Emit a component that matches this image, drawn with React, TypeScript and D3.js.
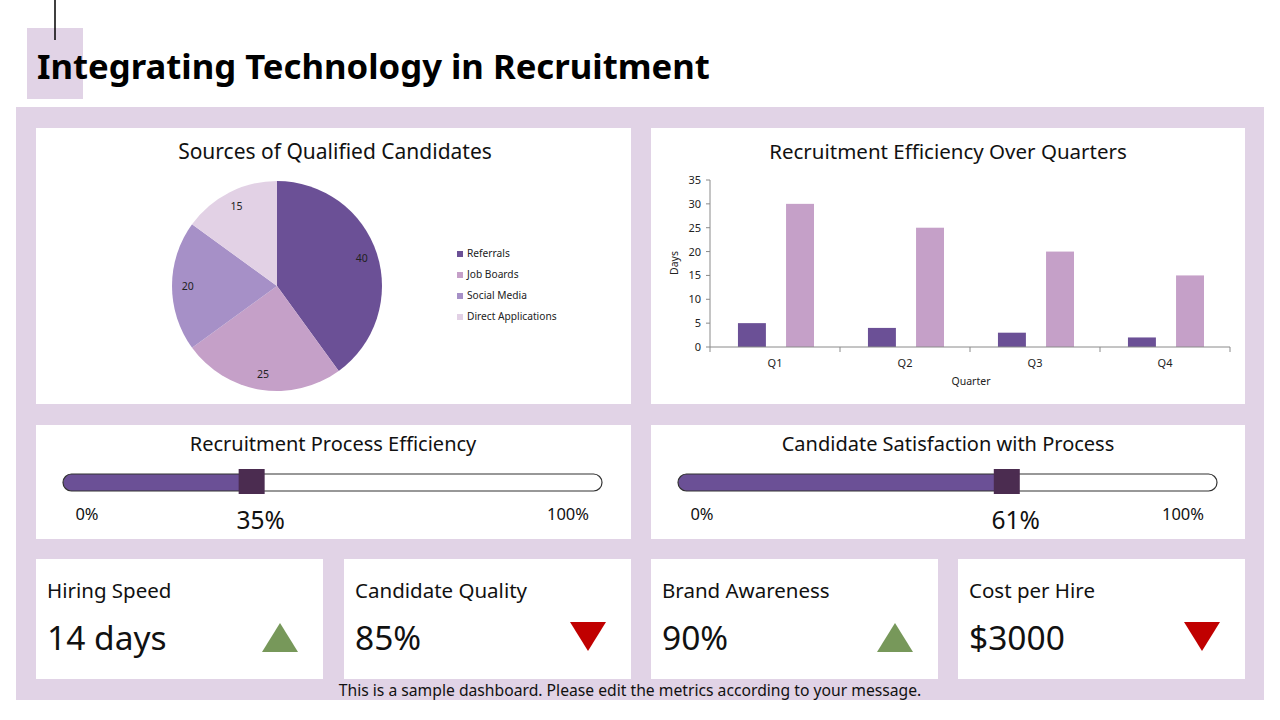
import React from 'react';
import * as d3 from 'd3';

const pieLabels = ['Referrals', 'Job Boards', 'Social Media', 'Direct Applications'];
const pieValues = [40, 25, 20, 15];
const pieColors = ['#6b5096', '#c5a0c8', '#a690c7', '#e2d1e5'];

const quarters = ['Q1', 'Q2', 'Q3', 'Q4'];
const seriesA = [5, 4, 3, 2];
const seriesB = [30, 25, 20, 15];
const yTicks = [0, 5, 10, 15, 20, 25, 30, 35];

const progressTitles = ['Recruitment Process Efficiency', 'Candidate Satisfaction with Process'];
const progressValues = [35, 61];

const kpiNames = ['Hiring Speed', 'Candidate Quality', 'Brand Awareness', 'Cost per Hire'];
const kpiValues = ['14 days', '85%', '90%', '$3000'];
const kpiTrends = ['up', 'down', 'up', 'down'];

const FONT = "'Noto Sans', sans-serif";
const PANEL_BG = '#e1d3e6';

const Pie = () => {
  const cx = 277, cy = 286, r = 105;
  const arcs = d3.pie<number>().sort(null)(pieValues);
  const arc = d3.arc<d3.PieArcDatum<number>>().innerRadius(0).outerRadius(r);
  const labelArc = d3.arc<d3.PieArcDatum<number>>().innerRadius(r * 0.85).outerRadius(r * 0.85);
  const legendY = d3.scalePoint<string>().domain(pieLabels).range([254, 317]);
  return (
    <g>
      <text x={335} y={153} textAnchor="middle" dominantBaseline="middle" fontSize={21} fill="#111">
        Sources of Qualified Candidates
      </text>
      <g transform={`translate(${cx},${cy})`}>
        {arcs.map((a, i) => (
          <path key={i} d={arc(a) || ''} fill={pieColors[i]} />
        ))}
        {arcs.map((a, i) => {
          const [lx, ly] = labelArc.centroid(a);
          return (
            <text key={'l' + i} x={lx} y={ly + 1} textAnchor="middle" dominantBaseline="middle" fontSize={10.5} fill="#222">
              {pieValues[i]}
            </text>
          );
        })}
      </g>
      {pieLabels.map((l, i) => (
        <g key={l} transform={`translate(457,${legendY(l)})`}>
          <rect x={0} y={-3} width={6} height={6} fill={pieColors[i]} />
          <text x={10} y={0} dominantBaseline="middle" fontSize={10.2} fill="#222">{l}</text>
        </g>
      ))}
    </g>
  );
};

const Bars = () => {
  const x = d3.scaleBand<string>().domain(quarters).range([710, 1230]);
  const y = d3.scaleLinear().domain([0, 35]).range([347, 180]);
  const bw = x.bandwidth();
  const barW = bw * 0.215;
  return (
    <g>
      <text x={948} y={153} textAnchor="middle" dominantBaseline="middle" fontSize={20.5} fill="#111">
        Recruitment Efficiency Over Quarters
      </text>
      {quarters.map((q, i) => {
        const x0 = x(q) || 0;
        return (
          <g key={q}>
            <rect x={x0 + bw * 0.215} y={y(seriesA[i])} width={barW} height={y(0) - y(seriesA[i])} fill="#6b5096" />
            <rect x={x0 + bw * 0.585} y={y(seriesB[i])} width={barW} height={y(0) - y(seriesB[i])} fill="#c5a0c8" />
            <text x={x0 + bw / 2} y={364} textAnchor="middle" dominantBaseline="middle" fontSize={11} fill="#222">{q}</text>
          </g>
        );
      })}
      <line x1={710} x2={710} y1={y(35)} y2={y(0)} stroke="#8a8a8a" />
      <line x1={710} x2={1230} y1={y(0)} y2={y(0)} stroke="#8a8a8a" />
      {yTicks.map(t => (
        <g key={t}>
          <line x1={706} x2={710} y1={y(t)} y2={y(t)} stroke="#8a8a8a" />
          <text x={701} y={y(t) + 1} textAnchor="end" dominantBaseline="middle" fontSize={11} fill="#222">{t}</text>
        </g>
      ))}
      {[...quarters.map(q => x(q) || 0), 1230].map((v, i) => (
        <line key={i} x1={v} x2={v} y1={y(0)} y2={y(0) + 5} stroke="#8a8a8a" />
      ))}
      <text transform="translate(675,263) rotate(-90)" textAnchor="middle" dominantBaseline="middle" fontSize={10.5} fill="#222">Days</text>
      <text x={971} y={382} textAnchor="middle" dominantBaseline="middle" fontSize={10.5} fill="#222">Quarter</text>
    </g>
  );
};

const Progress = ({ i, left }: { i: number; left: number }) => {
  const x = d3.scaleLinear().domain([0, 100]).range([left + 27, left + 566]);
  const v = progressValues[i];
  const tx = x(v);
  return (
    <g>
      <text x={left + 297} y={446} textAnchor="middle" dominantBaseline="middle" fontSize={20} fill="#111">
        {progressTitles[i]}
      </text>
      <rect x={x(0)} y={474} width={x(100) - x(0)} height={17} rx={8.5} fill="#fff" />
      <path
        d={`M${tx},474 H${x(0) + 8.5} A8.5,8.5 0 0 0 ${x(0) + 8.5},491 H${tx} Z`}
        fill="#6b5096"
      />
      <rect x={x(0)} y={474} width={x(100) - x(0)} height={17} rx={8.5} fill="none" stroke="#333" strokeWidth={1.2} />
      <rect x={tx - 13} y={469} width={26} height={25} fill="#4b2c50" />
      <text x={left + 51} y={516} textAnchor="middle" dominantBaseline="middle" fontSize={16.5} fill="#111">0%</text>
      <text x={left + 532} y={516} textAnchor="middle" dominantBaseline="middle" fontSize={16.5} fill="#111">100%</text>
      <text x={tx + 9} y={522} textAnchor="middle" dominantBaseline="middle" fontSize={24.5} fill="#111">{v}%</text>
    </g>
  );
};

const Kpi = ({ i }: { i: number }) => {
  const lefts = [36, 344, 651, 958];
  const left = lefts[i];
  const up = kpiTrends[i] === 'up';
  const cx = left + 244;
  const tri = up
    ? `M${cx - 18},652 L${cx + 18},652 L${cx},623 Z`
    : `M${cx - 18},622 L${cx + 18},622 L${cx},651 Z`;
  return (
    <g>
      <rect x={left} y={559} width={287} height={120} fill="#fff" />
      <text x={left + 11} y={592} dominantBaseline="middle" fontSize={20.5} fill="#111">{kpiNames[i]}</text>
      <text x={left + 11} y={641} dominantBaseline="middle" fontSize={33.5} fill="#111">{kpiValues[i]}</text>
      <path d={tri} fill={up ? '#77985a' : '#c00000'} />
    </g>
  );
};

export default function App() {
  return (
    <svg
      width={1280}
      height={720}
      style={{ position: 'absolute', left: 0, top: 0, display: 'block', background: '#fff' }}
      fontFamily={FONT}
    >
      <rect x={0} y={0} width={1280} height={720} fill="#fff" />
      <rect x={27} y={28} width={56} height={71} fill={PANEL_BG} />
      <line x1={55} x2={55} y1={0} y2={40} stroke="#000" strokeWidth={1.5} />
      <text x={37} y={70} dominantBaseline="middle" fontSize={34.7} fontWeight="bold" fill="#000">
        Integrating Technology in Recruitment
      </text>
      <rect x={16} y={107} width={1248} height={593} fill={PANEL_BG} />
      <rect x={36} y={128} width={595} height={276} fill="#fff" />
      <rect x={651} y={128} width={594} height={276} fill="#fff" />
      <rect x={36} y={425} width={595} height={114} fill="#fff" />
      <rect x={651} y={425} width={594} height={114} fill="#fff" />
      <Pie />
      <Bars />
      <Progress i={0} left={36} />
      <Progress i={1} left={651} />
      {kpiNames.map((_, i) => <Kpi key={i} i={i} />)}
      <text x={630} y={692} textAnchor="middle" dominantBaseline="middle" fontSize={15.7} fill="#111">
        This is a sample dashboard. Please edit the metrics according to your message.
      </text>
    </svg>
  );
}
